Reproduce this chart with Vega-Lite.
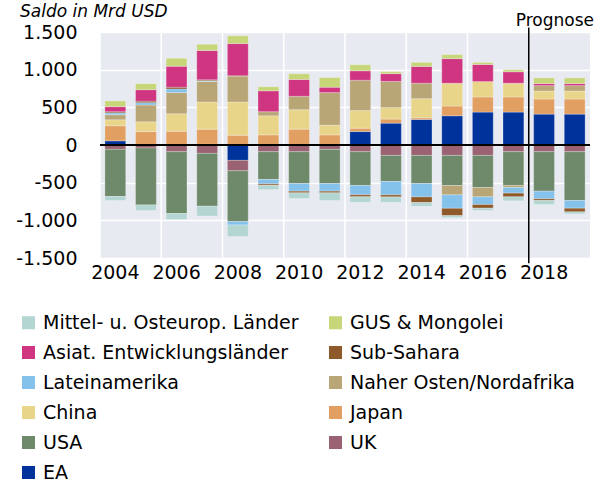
{
  "$schema": "https://vega.github.io/schema/vega-lite/v6.json",
  "width": 490,
  "height": 226,
  "autosize": {"type": "none"},
  "padding": {"left": 100, "top": 32, "right": 18, "bottom": 224},
  "background": "white",
  "config": {
    "font": "DejaVu Sans",
    "locale": {"number": {"decimal": ",", "thousands": ".", "grouping": [3], "currency": ["", " €"], "minus": "-"}},
    "view": {"fill": "#E8EAF2", "stroke": null},
    "axisX": {"bandPosition": 0.5, "labelAngle": 0, "labelFontSize": 19, "labelColor": "black", "labelPadding": 5, "labelOverlap": false, "ticks": false, "domain": false, "grid": false, "title": null},
    "axisY": {"labelFontSize": 19, "labelColor": "black", "labelPadding": 23, "labelOverlap": false, "ticks": false, "domain": false, "grid": true, "gridColor": "white", "gridWidth": 1.5, "title": null}
  },
  "title": {"text": "Saldo in Mrd USD", "anchor": "start", "frame": "group", "fontStyle": "italic", "fontWeight": "normal", "fontSize": 17, "color": "black", "dx": -80, "dy": 26, "baseline": "bottom", "offset": 0},
  "data": {"values": [
    {"year": 2004, "region": "EA", "value": 55},
    {"year": 2004, "region": "UK", "value": -58},
    {"year": 2004, "region": "USA", "value": -626},
    {"year": 2004, "region": "Japan", "value": 200},
    {"year": 2004, "region": "China", "value": 80},
    {"year": 2004, "region": "Naher Osten/Nordafrika", "value": 67},
    {"year": 2004, "region": "Lateinamerika", "value": 25},
    {"year": 2004, "region": "Sub-Sahara", "value": 15},
    {"year": 2004, "region": "Mittel- u. Osteurop. Länder", "value": -53},
    {"year": 2004, "region": "Asiat. Entwicklungsländer", "value": 67},
    {"year": 2004, "region": "GUS & Mongolei", "value": 76},
    {"year": 2005, "region": "EA", "value": 0},
    {"year": 2005, "region": "UK", "value": -40},
    {"year": 2005, "region": "USA", "value": -755},
    {"year": 2005, "region": "Japan", "value": 178},
    {"year": 2005, "region": "China", "value": 130},
    {"year": 2005, "region": "Naher Osten/Nordafrika", "value": 223},
    {"year": 2005, "region": "Lateinamerika", "value": 31},
    {"year": 2005, "region": "Sub-Sahara", "value": 20},
    {"year": 2005, "region": "Mittel- u. Osteurop. Länder", "value": -75},
    {"year": 2005, "region": "Asiat. Entwicklungsländer", "value": 152},
    {"year": 2005, "region": "GUS & Mongolei", "value": 80},
    {"year": 2006, "region": "EA", "value": 0},
    {"year": 2006, "region": "UK", "value": -89},
    {"year": 2006, "region": "USA", "value": -821},
    {"year": 2006, "region": "Japan", "value": 183},
    {"year": 2006, "region": "China", "value": 232},
    {"year": 2006, "region": "Naher Osten/Nordafrika", "value": 281},
    {"year": 2006, "region": "Lateinamerika", "value": 49},
    {"year": 2006, "region": "Sub-Sahara", "value": 22},
    {"year": 2006, "region": "Mittel- u. Osteurop. Länder", "value": -80},
    {"year": 2006, "region": "Asiat. Entwicklungsländer", "value": 277},
    {"year": 2006, "region": "GUS & Mongolei", "value": 107},
    {"year": 2007, "region": "EA", "value": 10},
    {"year": 2007, "region": "UK", "value": -111},
    {"year": 2007, "region": "USA", "value": -702},
    {"year": 2007, "region": "Japan", "value": 200},
    {"year": 2007, "region": "China", "value": 361},
    {"year": 2007, "region": "Naher Osten/Nordafrika", "value": 272},
    {"year": 2007, "region": "Lateinamerika", "value": 10},
    {"year": 2007, "region": "Sub-Sahara", "value": 13},
    {"year": 2007, "region": "Mittel- u. Osteurop. Länder", "value": -129},
    {"year": 2007, "region": "Asiat. Entwicklungsländer", "value": 388},
    {"year": 2007, "region": "GUS & Mongolei", "value": 85},
    {"year": 2008, "region": "EA", "value": -204},
    {"year": 2008, "region": "UK", "value": -138},
    {"year": 2008, "region": "USA", "value": -675},
    {"year": 2008, "region": "Japan", "value": 129},
    {"year": 2008, "region": "China", "value": 441},
    {"year": 2008, "region": "Naher Osten/Nordafrika", "value": 348},
    {"year": 2008, "region": "Lateinamerika", "value": -44},
    {"year": 2008, "region": "Sub-Sahara", "value": 0},
    {"year": 2008, "region": "Mittel- u. Osteurop. Länder", "value": -155},
    {"year": 2008, "region": "Asiat. Entwicklungsländer", "value": 428},
    {"year": 2008, "region": "GUS & Mongolei", "value": 103},
    {"year": 2009, "region": "EA", "value": 0},
    {"year": 2009, "region": "UK", "value": -89},
    {"year": 2009, "region": "USA", "value": -369},
    {"year": 2009, "region": "Japan", "value": 134},
    {"year": 2009, "region": "China", "value": 254},
    {"year": 2009, "region": "Naher Osten/Nordafrika", "value": 54},
    {"year": 2009, "region": "Lateinamerika", "value": -58},
    {"year": 2009, "region": "Sub-Sahara", "value": -18},
    {"year": 2009, "region": "Mittel- u. Osteurop. Länder", "value": -58},
    {"year": 2009, "region": "Asiat. Entwicklungsländer", "value": 277},
    {"year": 2009, "region": "GUS & Mongolei", "value": 54},
    {"year": 2010, "region": "EA", "value": 0},
    {"year": 2010, "region": "UK", "value": -89},
    {"year": 2010, "region": "USA", "value": -422},
    {"year": 2010, "region": "Japan", "value": 210},
    {"year": 2010, "region": "China", "value": 259},
    {"year": 2010, "region": "Naher Osten/Nordafrika", "value": 178},
    {"year": 2010, "region": "Lateinamerika", "value": -102},
    {"year": 2010, "region": "Sub-Sahara", "value": -22},
    {"year": 2010, "region": "Mittel- u. Osteurop. Länder", "value": -75},
    {"year": 2010, "region": "Asiat. Entwicklungsländer", "value": 223},
    {"year": 2010, "region": "GUS & Mongolei", "value": 76},
    {"year": 2011, "region": "EA", "value": 0},
    {"year": 2011, "region": "UK", "value": -58},
    {"year": 2011, "region": "USA", "value": -453},
    {"year": 2011, "region": "Japan", "value": 134},
    {"year": 2011, "region": "China", "value": 129},
    {"year": 2011, "region": "Naher Osten/Nordafrika", "value": 433},
    {"year": 2011, "region": "Lateinamerika", "value": -102},
    {"year": 2011, "region": "Sub-Sahara", "value": -22},
    {"year": 2011, "region": "Mittel- u. Osteurop. Länder", "value": -102},
    {"year": 2011, "region": "Asiat. Entwicklungsländer", "value": 71},
    {"year": 2011, "region": "GUS & Mongolei", "value": 129},
    {"year": 2012, "region": "EA", "value": 178},
    {"year": 2012, "region": "UK", "value": -89},
    {"year": 2012, "region": "USA", "value": -448},
    {"year": 2012, "region": "Japan", "value": 45},
    {"year": 2012, "region": "China", "value": 236},
    {"year": 2012, "region": "Naher Osten/Nordafrika", "value": 401},
    {"year": 2012, "region": "Lateinamerika", "value": -124},
    {"year": 2012, "region": "Sub-Sahara", "value": -27},
    {"year": 2012, "region": "Mittel- u. Osteurop. Länder", "value": -71},
    {"year": 2012, "region": "Asiat. Entwicklungsländer", "value": 125},
    {"year": 2012, "region": "GUS & Mongolei", "value": 80},
    {"year": 2013, "region": "EA", "value": 290},
    {"year": 2013, "region": "UK", "value": -138},
    {"year": 2013, "region": "USA", "value": -346},
    {"year": 2013, "region": "Japan", "value": 54},
    {"year": 2013, "region": "China", "value": 152},
    {"year": 2013, "region": "Naher Osten/Nordafrika", "value": 348},
    {"year": 2013, "region": "Lateinamerika", "value": -178},
    {"year": 2013, "region": "Sub-Sahara", "value": -27},
    {"year": 2013, "region": "Mittel- u. Osteurop. Länder", "value": -71},
    {"year": 2013, "region": "Asiat. Entwicklungsländer", "value": 103},
    {"year": 2013, "region": "GUS & Mongolei", "value": 27},
    {"year": 2014, "region": "EA", "value": 339},
    {"year": 2014, "region": "UK", "value": -138},
    {"year": 2014, "region": "USA", "value": -373},
    {"year": 2014, "region": "Japan", "value": 22},
    {"year": 2014, "region": "China", "value": 254},
    {"year": 2014, "region": "Naher Osten/Nordafrika", "value": 205},
    {"year": 2014, "region": "Lateinamerika", "value": -178},
    {"year": 2014, "region": "Sub-Sahara", "value": -75},
    {"year": 2014, "region": "Mittel- u. Osteurop. Länder", "value": -49},
    {"year": 2014, "region": "Asiat. Entwicklungsländer", "value": 223},
    {"year": 2014, "region": "GUS & Mongolei", "value": 54},
    {"year": 2015, "region": "EA", "value": 388},
    {"year": 2015, "region": "UK", "value": -138},
    {"year": 2015, "region": "USA", "value": -400},
    {"year": 2015, "region": "Japan", "value": 129},
    {"year": 2015, "region": "China", "value": 303},
    {"year": 2015, "region": "Naher Osten/Nordafrika", "value": -124},
    {"year": 2015, "region": "Lateinamerika", "value": -178},
    {"year": 2015, "region": "Sub-Sahara", "value": -98},
    {"year": 2015, "region": "Mittel- u. Osteurop. Länder", "value": -27},
    {"year": 2015, "region": "Asiat. Entwicklungsländer", "value": 326},
    {"year": 2015, "region": "GUS & Mongolei", "value": 54},
    {"year": 2016, "region": "EA", "value": 437},
    {"year": 2016, "region": "UK", "value": -138},
    {"year": 2016, "region": "USA", "value": -426},
    {"year": 2016, "region": "Japan", "value": 200},
    {"year": 2016, "region": "China", "value": 205},
    {"year": 2016, "region": "Naher Osten/Nordafrika", "value": -124},
    {"year": 2016, "region": "Lateinamerika", "value": -102},
    {"year": 2016, "region": "Sub-Sahara", "value": -49},
    {"year": 2016, "region": "Mittel- u. Osteurop. Länder", "value": -31},
    {"year": 2016, "region": "Asiat. Entwicklungsländer", "value": 227},
    {"year": 2016, "region": "GUS & Mongolei", "value": 27},
    {"year": 2017, "region": "EA", "value": 437},
    {"year": 2017, "region": "UK", "value": -89},
    {"year": 2017, "region": "USA", "value": -448},
    {"year": 2017, "region": "Japan", "value": 200},
    {"year": 2017, "region": "China", "value": 183},
    {"year": 2017, "region": "Naher Osten/Nordafrika", "value": -27},
    {"year": 2017, "region": "Lateinamerika", "value": -75},
    {"year": 2017, "region": "Sub-Sahara", "value": -49},
    {"year": 2017, "region": "Mittel- u. Osteurop. Länder", "value": -53},
    {"year": 2017, "region": "Asiat. Entwicklungsländer", "value": 152},
    {"year": 2017, "region": "GUS & Mongolei", "value": 27},
    {"year": 2018, "region": "EA", "value": 410},
    {"year": 2018, "region": "UK", "value": -89},
    {"year": 2018, "region": "USA", "value": -524},
    {"year": 2018, "region": "Japan", "value": 200},
    {"year": 2018, "region": "China", "value": 107},
    {"year": 2018, "region": "Naher Osten/Nordafrika", "value": 71},
    {"year": 2018, "region": "Lateinamerika", "value": -102},
    {"year": 2018, "region": "Sub-Sahara", "value": -22},
    {"year": 2018, "region": "Mittel- u. Osteurop. Länder", "value": -53},
    {"year": 2018, "region": "Asiat. Entwicklungsländer", "value": 27},
    {"year": 2018, "region": "GUS & Mongolei", "value": 76},
    {"year": 2019, "region": "EA", "value": 410},
    {"year": 2019, "region": "UK", "value": -89},
    {"year": 2019, "region": "USA", "value": -648},
    {"year": 2019, "region": "Japan", "value": 200},
    {"year": 2019, "region": "China", "value": 107},
    {"year": 2019, "region": "Naher Osten/Nordafrika", "value": 71},
    {"year": 2019, "region": "Lateinamerika", "value": -102},
    {"year": 2019, "region": "Sub-Sahara", "value": -49},
    {"year": 2019, "region": "Mittel- u. Osteurop. Länder", "value": -27},
    {"year": 2019, "region": "Asiat. Entwicklungsländer", "value": 27},
    {"year": 2019, "region": "GUS & Mongolei", "value": 76}
  ]},
  "layer": [
    {
      "transform": [
        {"calculate": "indexof(['EA','UK','USA','Japan','China','Naher Osten/Nordafrika','Lateinamerika','Sub-Sahara','Mittel- u. Osteurop. Länder','Asiat. Entwicklungsländer','GUS & Mongolei'], datum.region)", "as": "stackorder"}
      ],
      "mark": {"type": "bar", "width": {"band": 0.68}, "stroke": "white", "strokeWidth": 0.5, "strokeOpacity": 0.5},
      "encoding": {
        "x": {"field": "year", "type": "ordinal", "scale": {"paddingInner": 0, "paddingOuter": 0},
              "axis": {"values": [2004, 2006, 2008, 2010, 2012, 2014, 2016, 2018]}},
        "y": {"field": "value", "type": "quantitative", "aggregate": "sum", "stack": "zero",
              "scale": {"domain": [-1500, 1500], "nice": false},
              "axis": {"values": [-1500, -1000, -500, 0, 500, 1000, 1500], "tickCount": 12, "format": ",d", "labelOverlap": false, "labelBound": false}},
        "color": {"field": "region", "type": "nominal",
                  "scale": {"domain": ["Mittel- u. Osteurop. Länder", "Asiat. Entwicklungsländer", "Lateinamerika", "China", "USA", "EA", "GUS & Mongolei", "Sub-Sahara", "Naher Osten/Nordafrika", "Japan", "UK"],
                            "range": ["#B4D6D3", "#CF3580", "#85C2EB", "#E9D58A", "#6E8A6A", "#00329C", "#C8D67A", "#8E5A2A", "#B9A677", "#E29F62", "#9A6272"]},
                  "legend": {"orient": "none", "legendX": -81, "legendY": 281, "columns": 2, "title": null, "symbolType": "square", "symbolSize": 170, "symbolStrokeWidth": 0, "labelFontSize": 19, "labelColor": "black", "rowPadding": 10, "columnPadding": 27, "labelOffset": 5, "labelLimit": 400}},
        "order": {"field": "stackorder", "type": "quantitative"}
      }
    },
    {
      "data": {"values": [{"year": 2004}, {"year": 2006}, {"year": 2008}, {"year": 2010}, {"year": 2012}, {"year": 2014}, {"year": 2016}]},
      "mark": {"type": "rule", "color": "white", "strokeWidth": 1.5},
      "encoding": {"x": {"field": "year", "type": "ordinal", "bandPosition": 0}}
    },
    {
      "data": {"values": [{"value": 0}]},
      "mark": {"type": "rule", "color": "black", "strokeWidth": 2},
      "encoding": {"y": {"field": "value", "type": "quantitative"}}
    },
    {
      "data": {"values": [{"year": 2018}]},
      "mark": {"type": "rule", "color": "black", "strokeWidth": 1.5},
      "encoding": {"x": {"field": "year", "type": "ordinal", "bandPosition": 0}, "y": {"datum": 1560}, "y2": {"datum": -1570}}
    },
    {
      "data": {"values": [{"year": 2018, "label": "Prognose", "value": 1500}]},
      "mark": {"type": "text", "align": "left", "baseline": "alphabetic", "dx": -13, "dy": -6, "fontSize": 17, "color": "black"},
      "encoding": {"x": {"field": "year", "type": "ordinal", "bandPosition": 0}, "y": {"field": "value", "type": "quantitative"}, "text": {"field": "label"}}
    }
  ]
}
